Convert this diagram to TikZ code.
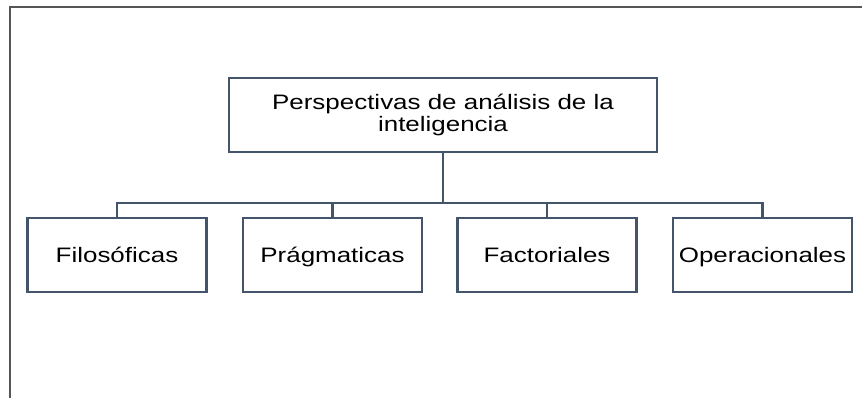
\documentclass[tikz,border=0pt]{standalone}
\usepackage{fontspec}
\setmainfont{Liberation Sans}[FakeStretch=1.24]
\definecolor{lineacaja}{HTML}{44546A}
\definecolor{lineamarco}{HTML}{555555}
\begin{document}
\begin{tikzpicture}[x=1bp, y=-1bp,
    caja/.style={draw=lineacaja, line width=2.4bp, minimum width=179bp,
      minimum height=74bp, inner sep=0pt, text=black,
      font=\fontsize{21}{22}\selectfont},
    hijo/.style={caja, text height=16bp, text depth=2bp},
    enlace/.style={draw=lineacaja, line width=2.4bp}]
  % Define window bounds
  \useasboundingbox (0,0) rectangle (862,398);
  \def\ybus{203} \def\yhijos{255}

  % Frame of the page (only top and left edges are shown)
  \draw[lineamarco, line width=2bp] (10,398) -- (10,7) -- (862,7);

  % Root box
  \node[caja, minimum width=428bp, align=center] (raiz) at (443,115)
    {Perspectivas de análisis de la\\inteligencia};

  % Child boxes
  \foreach \nombre/\texto/\xc in {filo/Filosóficas/117, prag/Prágmaticas/332.5,
      fact/Factoriales/547, oper/Operacionales/762.5}
    \node[hijo] (\nombre) at (\xc,\yhijos) {\texto};

  % Connectors
  \coordinate (bus) at (443,\ybus);
  \draw[enlace] (raiz.south) -- (bus);
  \draw[enlace] (filo.north) |- (bus) -| (oper.north);
  \draw[enlace] (prag.north) -- (prag.north |- bus);
  \draw[enlace] (fact.north) -- (fact.north |- bus);
\end{tikzpicture}
\end{document}
